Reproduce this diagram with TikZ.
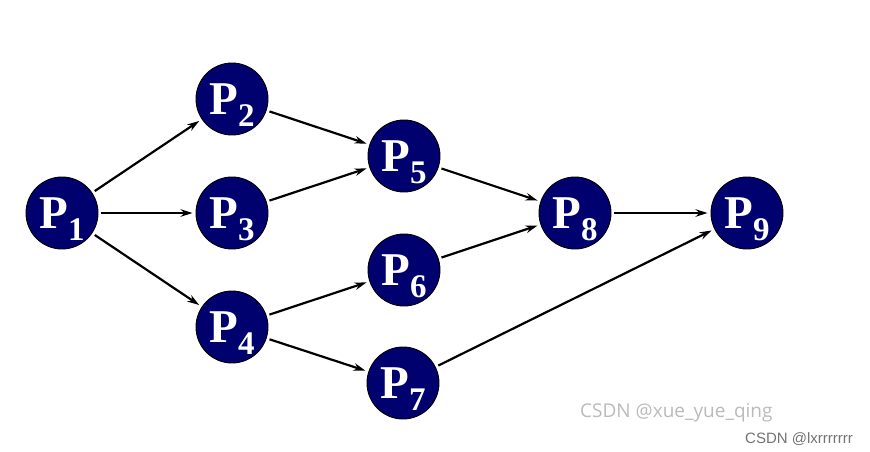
\documentclass[tikz,border=0pt]{standalone}
\usepackage{fontspec}
\setmainfont{Liberation Serif}
\newfontfamily\wmfont{Open Sans}
\newfontfamily\wmfontb{Liberation Sans}
\usetikzlibrary{arrows.meta,positioning}

\definecolor{procblue}{RGB}{0,0,110}
\newcommand{\proclabel}[1]{\fontsize{47}{47}\selectfont\bfseries P\raisebox{-12pt}{\fontsize{33}{33}\selectfont #1}}

\begin{document}
\begin{tikzpicture}[
    x=1pt, y=-1pt,
    on grid,
    proc/.style={circle, draw=black, line width=0.9pt, fill=procblue, text=white, minimum size=72pt, inner sep=0pt, text depth=0pt},
    arrow/.style={-{Stealth[length=12pt,width=7.5pt]}, line width=2.2pt, shorten <=3pt, shorten >=3pt}
]
\useasboundingbox (0,0) rectangle (870,451);

% Processes
\node[proc] (p1) at (62,213) {\proclabel{1}};
\node[proc, right=170pt of p1] (p3) {\proclabel{3}};
\node[proc, above=114pt of p3] (p2) {\proclabel{2}};
\node[proc, below=114pt of p3] (p4) {\proclabel{4}};

\node[proc, above right=57pt and 172pt of p3] (p5) {\proclabel{5}};
\node[proc, below right=57pt and 172pt of p3] (p6) {\proclabel{6}};
\node[proc, below right=56pt and 171pt of p4] (p7) {\proclabel{7}};

\node[proc, right=343pt of p3] (p8) {\proclabel{8}};
\node[proc, right=172pt of p8] (p9) {\proclabel{9}};

% Precedence arrows
\draw[arrow] (p1) -- (p2);
\draw[arrow] (p1) -- (p3);
\draw[arrow] (p1) -- (p4);
\draw[arrow] (p2) -- (p5);
\draw[arrow] (p3) -- (p5);
\draw[arrow] (p4) -- (p6);
\draw[arrow] (p4) -- (p7);
\draw[arrow] (p5) -- (p8);
\draw[arrow] (p6) -- (p8);
\draw[arrow] (p7) -- (p9);
\draw[arrow] (p8) -- (p9);

% Watermarks
\node[anchor=base west, text=black!27, font=\wmfont\fontsize{19}{19}\selectfont, inner sep=0pt] (wm1) at (580,417) {CSDN @xue\_yue\_qing};
\node[anchor=base west, text=black!55, font=\wmfontb\fontsize{15}{15}\selectfont, inner sep=0pt] (wm2) at (745,443) {CSDN @lxrrrrrrr};

\end{tikzpicture}
\end{document}
